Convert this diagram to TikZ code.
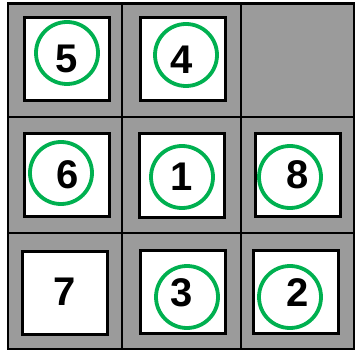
\documentclass[tikz,border=0pt]{standalone}
\usepackage{fontspec}
\setmainfont{Liberation Sans}
\definecolor{cellgray}{RGB}{155,155,155}
\definecolor{ringgreen}{RGB}{0,176,80}
\begin{document}
\begin{tikzpicture}[x=1pt,y=-1pt,
  gridline/.style={draw=black, line width=2.6pt},
  tile/.style={draw=black, line width=3pt, fill=white, minimum width=85pt, minimum height=83pt, inner sep=0pt},
  ring/.style={draw=ringgreen, line width=3.8pt, circle, minimum size=62pt, inner sep=0pt},
  num/.style={font=\fontsize{40}{40}\selectfont\bfseries, inner sep=0pt}
]
\useasboundingbox (0,0) rectangle (355,352);
\fill[cellgray] (8,3.5) rectangle (354,349);
\draw[gridline] (8,3.5) rectangle (354,349);
\draw[gridline] (122,3.5) -- (122,349);
\draw[gridline] (241,3.5) -- (241,349);
\draw[gridline] (8,117) -- (354,117);
\draw[gridline] (8,233) -- (354,233);

% tiles
\node[tile] (t5) at (67,59) {};
\node[tile] (t4) at (182.5,59.5) {};
\node[tile] (t6) at (66.5,175) {};
\node[tile] (t1) at (181.5,175.5) {};
\node[tile] (t8) at (297.5,175) {};
\node[tile] (t7) at (65,292.5) {};
\node[tile] (t3) at (183,292) {};
\node[tile] (t2) at (296,292) {};

% rings
\node[ring] (c5) at (67,53) {};
\node[ring] (c4) at (186,55) {};
\node[ring] (c6) at (61,173) {};
\node[ring] (c1) at (182,177) {};
\node[ring] (c8) at (290,177) {};
\node[ring] (c3) at (187,297) {};
\node[ring] (c2) at (290,297) {};

% numbers
\node[num] (n5) at (67,59) {5};
\node[num] (n4) at (182,60) {4};
\node[num] (n6) at (68,175) {6};
\node[num] (n1) at (182,177) {1};
\node[num] (n8) at (298,175) {8};
\node[num] (n7) at (65,292) {7};
\node[num] (n3) at (182,293) {3};
\node[num] (n2) at (298,293) {2};
\end{tikzpicture}
\end{document}
